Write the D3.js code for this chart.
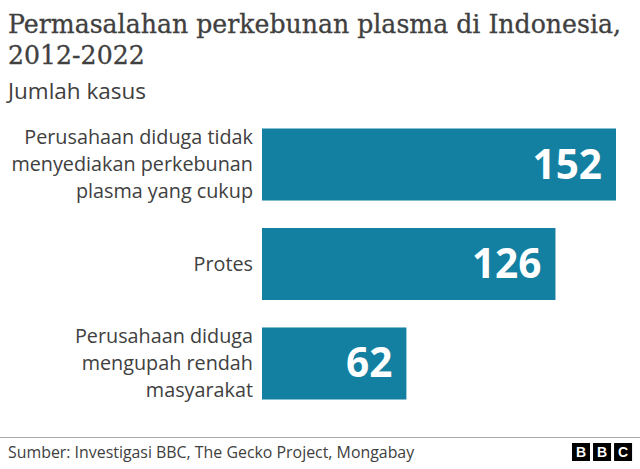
<!DOCTYPE html>
<html><head><meta charset="utf-8">
<script src="https://cdn.jsdelivr.net/npm/d3@7"></script>
<style>html,body{margin:0;padding:0;background:#fff}svg{display:block}</style>
</head><body><svg id="c" width="640" height="469"></svg>
<script>
const categories = ["Perusahaan diduga tidak|menyediakan perkebunan|plasma yang cukup","Protes","Perusahaan diduga|mengupah rendah|masyarakat"];
const values = [152,126,62];
const titleLines = ["Permasalahan perkebunan plasma di Indonesia,","2012-2022"];
const subtitle = "Jumlah kasus";
const source = "Sumber: Investigasi BBC, The Gecko Project, Mongabay";
const logoLetters = ["B","B","C"];

const svg = d3.select("#c");
const sans = "'Open Sans','Noto Sans',sans-serif";
const serif = "'DejaVu Serif','Liberation Serif',serif";
const x = d3.scaleLinear().domain([0,152]).range([262,616]);
const y = d3.scaleBand().domain(categories).range([128.5,399.5]).paddingInner(0.276).paddingOuter(0);

svg.selectAll("text.title").data(titleLines).join("text").attr("class","title")
  .attr("x",8).attr("y",(d,i)=>32.5+i*31).attr("font-family",serif).attr("font-size",25.2).attr("fill","#404040").attr("stroke","#404040").attr("stroke-width",0.3).text(d=>d);
svg.append("text").attr("x",8).attr("y",99).attr("font-family",sans).attr("font-size",22.5).attr("fill","#404040").text(subtitle);

svg.selectAll("rect.bar").data(values).join("rect").attr("class","bar")
  .attr("x",x(0)).attr("y",(d,i)=>y(categories[i])).attr("width",d=>x(d)-x(0)).attr("height",y.bandwidth()).attr("fill","#1380A1");
svg.selectAll("text.val").data(values).join("text").attr("class","val")
  .attr("x",d=>x(d)-14).attr("y",(d,i)=>y(categories[i])+y.bandwidth()/2+14).attr("text-anchor","end")
  .attr("font-family",sans).attr("font-weight",700).attr("font-size",40.5).attr("fill","#fff").text(d=>d);

categories.forEach(c=>{
  const lines=c.split("|"), cy=y(c)+y.bandwidth()/2;
  svg.append("g").selectAll("text").data(lines).join("text")
    .attr("x",253).attr("y",(d,i)=>cy+6.5+(i-(lines.length-1)/2)*27).attr("text-anchor","end")
    .attr("font-family",sans).attr("font-size",19.8).attr("fill","#404040").text(d=>d);
});

svg.append("line").attr("x1",0).attr("x2",640).attr("y1",437.5).attr("y2",437.5).attr("stroke","#a8a8a8").attr("stroke-width",1);
svg.append("text").attr("x",8).attr("y",458).attr("font-family",sans).attr("font-size",15.9).attr("fill","#404040").text(source);

const logoX = d3.scaleBand().domain(d3.range(3)).range([572,633]).paddingInner(0.1);
const lg = svg.append("g").selectAll("g").data(logoLetters).join("g").attr("transform",(d,i)=>`translate(${logoX(i)},443)`);
lg.append("rect").attr("width",18).attr("height",18).attr("fill","#000");
lg.append("text").attr("x",9).attr("y",14.3).attr("text-anchor","middle").attr("font-family","'Liberation Sans',sans-serif").attr("font-weight",700).attr("font-size",14).attr("fill","#fff").text(d=>d);
</script></body></html>
